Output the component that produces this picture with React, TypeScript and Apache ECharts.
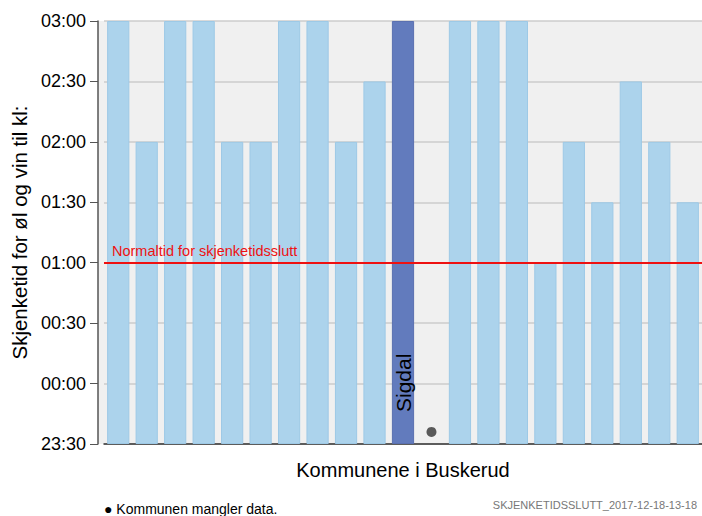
import React, { useEffect, useRef } from "react";
import * as echarts from "echarts";

const categories = [
  "K1", "K2", "K3", "K4", "K5", "K6", "K7", "K8", "K9", "K10",
  "Sigdal", "K12", "K13", "K14", "K15", "K16", "K17", "K18", "K19", "K20", "K21",
];
// minutes after 00:00 (negative = before midnight)
const closingMinutes: (number | null)[] = [
  180, 120, 180, 180, 120, 120, 180, 180, 120, 150,
  180, null, 180, 180, 180, 60, 120, 90, 150, 120, 90,
];
const highlighted = "Sigdal";
const missingMarkerValue = -24;
const normalTime = 60;
const yMin = -30;
const yMax = 180;
const yStep = 30;

const fmt = (v: number) => {
  let m = ((v % 1440) + 1440) % 1440;
  const h = Math.floor(m / 60);
  const mm = m % 60;
  return String(h).padStart(2, "0") + ":" + String(mm).padStart(2, "0");
};

export default function App() {
  const ref = useRef<HTMLDivElement>(null);
  useEffect(() => {
    if (!ref.current) return;
    const chart = echarts.init(ref.current, null, { renderer: "svg" });
    const font = "'Liberation Sans', Arial, sans-serif";
    // axis shows minutes above the axis minimum, so bars rise from the bottom (23:30)
    const sh = (v: number) => v - yMin;
    const barData = closingMinutes.map((v, i) => {
      if (v === null) return null;
      if (categories[i] === highlighted) {
        return {
          value: sh(v),
          itemStyle: { color: "#627bbd", borderColor: "#5a70b0" },
          label: {
            show: true,
            formatter: categories[i],
            position: "insideBottom",
            rotate: 90,
            align: "left",
            verticalAlign: "middle",
            distance: 32,
            color: "#000",
            fontSize: 21,
            fontFamily: font,
          },
        };
      }
      return sh(v);
    });
    const missingData = closingMinutes.map((v) => (v === null ? sh(missingMarkerValue) : null));
    chart.setOption({
      animation: false,
      textStyle: { fontFamily: font },
      grid: {
        left: 104,
        right: 0,
        top: 21,
        bottom: 72,
        show: true,
        backgroundColor: "#f0f0f0",
        borderWidth: 0,
        containLabel: false,
        outerBoundsMode: "none",
      },
      graphic: [
        {
          type: "rect",
          shape: { x: 98, y: 21, width: 6, height: 423 },
          style: { fill: "#f0f0f0" },
          z: -10,
        },
        {
          type: "text",
          x: 104,
          y: 502,
          style: {
            text: "● Kommunen mangler data.",
            fontSize: 14,
            fill: "#000",
            fontFamily: font,
          },
        },
        {
          type: "text",
          right: 5,
          y: 499,
          style: {
            text: "SKJENKETIDSSLUTT_2017-12-18-13-18",
            fontSize: 11,
            fill: "#777",
            fontFamily: font,
          },
        },
      ],
      xAxis: {
        type: "category",
        data: categories,
        name: "Kommunene i Buskerud",
        nameLocation: "middle",
        nameGap: 16,
        nameTextStyle: { fontSize: 20, color: "#000", fontFamily: font },
        axisLine: { show: true, onZero: false, lineStyle: { color: "#333", width: 1.5 } },
        axisTick: { show: false },
        axisLabel: { show: false },
      },
      yAxis: {
        type: "value",
        min: 0,
        max: yMax - yMin,
        interval: yStep,
        offset: 6,
        name: "Skjenketid for øl og vin til kl:",
        nameLocation: "middle",
        nameGap: 68,
        nameTextStyle: { fontSize: 20.5, color: "#000", fontFamily: font },
        axisLine: { show: true, lineStyle: { color: "#555", width: 1.5 } },
        axisTick: { show: true, length: 8, lineStyle: { color: "#555" } },
        axisLabel: {
          formatter: (v: number) => fmt(v + yMin),
          fontSize: 18,
          color: "#000",
          margin: 12,
          fontFamily: font,
        },
        splitLine: { show: true, lineStyle: { color: "#cccccc", width: 1.5 } },
      },
      series: [
        {
          type: "bar",
          data: barData,
          barCategoryGap: "22%",
          itemStyle: { color: "#acd3ec", borderColor: "#9dc9e6", borderWidth: 1 },
          markLine: {
            symbol: "none",
            silent: true,
            lineStyle: { color: "#ee1111", width: 2, type: "solid" },
            data: [{ yAxis: sh(normalTime) }],
            label: {
              show: true,
              position: "insideStartTop",
              formatter: "Normaltid for skjenketidsslutt",
              color: "#ee1111",
              fontSize: 14.5,
              distance: [8, 4],
              fontFamily: font,
            },
          },
        },
        {
          type: "scatter",
          data: missingData,
          symbol: "circle",
          symbolSize: 10,
          itemStyle: { color: "#333" },
        },
      ],
    });
    return () => chart.dispose();
  }, []);
  return <div ref={ref} style={{ width: 702, height: 516, position: "absolute", left: 0, top: 0 }} />;
}
